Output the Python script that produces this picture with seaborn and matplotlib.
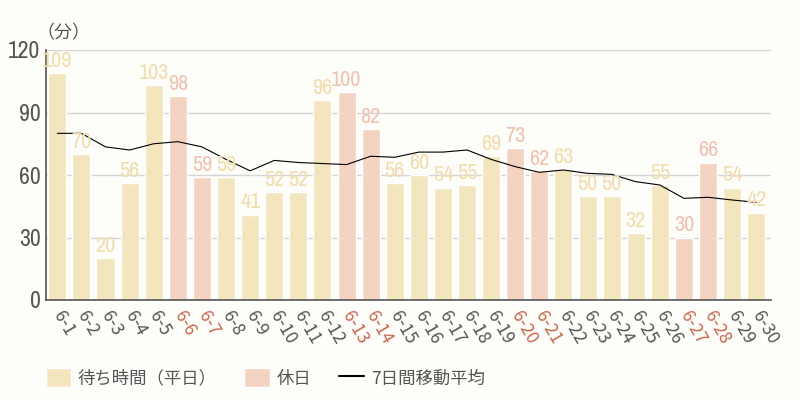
import numpy as np
import pandas as pd
import matplotlib
matplotlib.use("Agg")
import matplotlib.pyplot as plt
import seaborn as sns
from matplotlib import font_manager
from matplotlib.patches import Patch
from matplotlib.lines import Line2D

sns.set_style("white")
plt.rcParams["font.family"] = ["Noto Sans CJK JP", "DejaVu Sans"]

# データ（6月の待ち時間、分）
days = [f"6-{d}" for d in range(1, 31)]
wait_min = [109, 70, 20, 56, 103, 98, 59, 59, 41, 52,
            52, 96, 100, 82, 56, 60, 54, 55, 69, 73,
            62, 63, 50, 50, 32, 55, 30, 66, 54, 42]
holidays = ["6-6", "6-7", "6-13", "6-14", "6-20", "6-21", "6-27", "6-28"]
ma7 = [80, 80, 73.5, 72, 75, 76, 73.5, 67.5, 62, 67,
       66, 65.5, 65, 69, 68.5, 71, 71, 72, 67.5, 64,
       61.3, 62.4, 60.8, 60.3, 56.8, 55.2, 48.8, 49.3, 48, 46.9]
yticks = [0, 30, 60, 90, 120]

C_WEEKDAY = "#F3E5BE"
C_HOLIDAY = "#F4D3C3"
C_LBL_WEEKDAY = "#F1DDAE"
C_LBL_HOLIDAY = "#F0C2B1"
C_TICK_HOL = "#C8674C"
C_TEXT = "#555555"
BG = "#FDFDFA"


def pick_narrow_font():
    """細めの数字フォントを探す（なければ通常フォントを小さく）"""
    names = sorted({f.name for f in font_manager.fontManager.ttflist})
    for key in ["Narrow", "Condensed", "Compressed"]:
        for n in names:
            if key in n:
                return [n, "DejaVu Sans"], None
    for f in font_manager.fontManager.ttflist:
        if "condensed" in str(f.stretch) and f.weight in (400, "normal", "regular"):
            return [f.name, "DejaVu Sans"], "condensed"
    return ["Liberation Sans", "DejaVu Sans"], None


NUM_FONT, NUM_STRETCH = pick_narrow_font()
narrow = NUM_FONT[0] != "Liberation Sans"
lbl_size = 16 if narrow else 11.5
tick_size = 17 if narrow else 14

df = pd.DataFrame({
    "day": days,
    "wait": wait_min,
    "kind": ["休日" if d in holidays else "平日" for d in days],
})

fig = plt.figure(figsize=(8, 4), dpi=100, facecolor=BG)
ax = fig.add_axes([0.0575, 0.25, 0.9065, 0.625])
ax.set_facecolor(BG)

sns.barplot(data=df, x="day", y="wait", hue="kind",
            palette={"平日": C_WEEKDAY, "休日": C_HOLIDAY},
            dodge=False, width=0.75, ax=ax, legend=False,
            saturation=1)

sns.lineplot(x=np.arange(len(days)), y=ma7, color="black", lw=0.8, ax=ax)

num_kw = dict(family=NUM_FONT)
if NUM_STRETCH:
    num_kw["stretch"] = NUM_STRETCH

# 値ラベル
for i, (d, v) in enumerate(zip(days, wait_min)):
    col = C_LBL_HOLIDAY if d in holidays else C_LBL_WEEKDAY
    ax.text(i, v + 1, str(v), ha="center", va="bottom", color=col,
            fontsize=lbl_size, **num_kw)

ax.set_ylim(0, 120)
ax.set_xlim(-0.47, 29.62)
ax.set_yticks(yticks)
ax.set_yticklabels([str(t) for t in yticks], fontsize=tick_size, color=C_TEXT, **num_kw)
ax.yaxis.grid(True, color="#D6D4D8", lw=1)
ax.set_axisbelow(True)
ax.tick_params(axis="both", length=0, pad=4)
ax.set_xlabel("")
ax.set_ylabel("")

ax.set_xticks(range(len(days)))
ax.set_xticklabels(days, rotation=-60, ha="left", va="center",
                   rotation_mode="anchor", fontsize=12.5)
for lbl in ax.get_xticklabels():
    lbl.set_color(C_TICK_HOL if lbl.get_text() in holidays else C_TEXT)
ax.tick_params(axis="x", pad=9)

for side in ["top", "right"]:
    ax.spines[side].set_visible(False)
for side in ["left", "bottom"]:
    ax.spines[side].set_color("#555555")
    ax.spines[side].set_linewidth(1.2)

fig.text(0.046, 0.918, "（分）", ha="left", va="center", fontsize=13, color=C_TEXT)

handles = [
    Patch(facecolor=C_WEEKDAY, label="待ち時間（平日）"),
    Patch(facecolor=C_HOLIDAY, label="休日"),
    Line2D([0], [0], color="black", lw=1.5, label="7日間移動平均"),
]
leg = fig.legend(handles=handles, loc="center left", bbox_to_anchor=(0.057, 0.055),
                 ncol=3, frameon=False, fontsize=12.5, handlelength=1.45,
                 handleheight=1.3, columnspacing=1.6, handletextpad=0.4,
                 borderpad=0, borderaxespad=0)
for t in leg.get_texts():
    t.set_color(C_TEXT)

fig.savefig("out.png", dpi=100, facecolor=BG)
